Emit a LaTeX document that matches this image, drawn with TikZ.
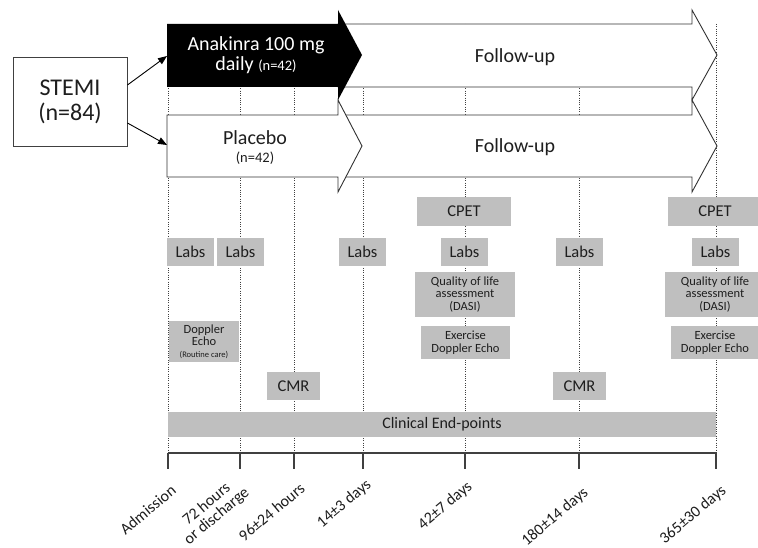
\documentclass[tikz,border=0pt]{standalone}
\usepackage{fontspec}
\setmainfont{Carlito}
\usetikzlibrary{arrows.meta}
\definecolor{boxgray}{HTML}{BFBFBF}
\definecolor{txt}{HTML}{1E1E1E}
\tikzset{
  gbox/.style={fill=boxgray, draw=none, text=txt, inner sep=0pt, align=center, font=\fontsize{16.5}{18}\selectfont},
  sbox/.style={gbox, font=\fontsize{12.5}{12.5}\selectfont},
  vline/.style={black!75, line width=0.7pt, dash pattern=on 0.7pt off 1.6pt},
  arrowshape/.style={draw=black!80, line width=0.9pt, fill=white, line join=miter},
  axlab/.style={rotate=40, anchor=north east, inner sep=1pt, font=\fontsize{16}{15.5}\selectfont, text=txt, align=center},
  bigtxt/.style={font=\fontsize{20}{20}\selectfont, align=center, text=txt},
  axisline/.style={black!75, line width=1.1pt},
}
\begin{document}
\begin{tikzpicture}[x=1pt,y=-1pt]
\useasboundingbox (0,0) rectangle (758,548);
\clip (0,0) rectangle (758,548);
\fill[white] (0,0) rectangle (758,548);

% time points
\foreach \n/\x in {a/168, b/240, c/294, d/363, e/465, f/579, g/716} {
  \coordinate (top\n) at (\x,24);
  \coordinate (ax\n) at (\x,453);
  \coordinate (tk\n) at (\x,469);
}
\foreach \n in {a,b,c,d,e,f,g} { \draw[vline] (top\n) -- (ax\n); }

% axis
\draw[axisline] (axa) -- (axg);
\foreach \n in {a,b,c,d,e,f,g} { \draw[axisline] (ax\n) -- (tk\n); }

% follow-up arrows
\draw[arrowshape] (338,24) -- (692,24) -- (692,10) -- (717,55) -- (692,100) -- (692,87) -- (338,87) -- cycle;
\draw[arrowshape] (338,115) -- (692,115) -- (692,100) -- (717,146) -- (692,192) -- (692,177) -- (338,177) -- cycle;
% treatment arrows
\draw[arrowshape] (167,115) -- (338,115) -- (338,100) -- (362,146) -- (338,192) -- (338,177) -- (167,177) -- cycle;
\fill[black] (167,24) -- (338,24) -- (338,10) -- (362,55) -- (338,100) -- (338,87) -- (167,87) -- cycle;

\node[bigtxt, text=white] (anatext) at (256,55) {Anakinra 100 mg\\daily {\fontsize{14.5}{14.5}\selectfont(n=42)}};
\node[bigtxt] (platext) at (255,148) {Placebo\\[-2pt]{\fontsize{14.5}{14.5}\selectfont(n=42)}};
\node[bigtxt] (fu1) at (515,57) {Follow-up};
\node[bigtxt] (fu2) at (515,147) {Follow-up};
\coordinate (anaL) at (167,56);
\coordinate (plaL) at (167,145);

% STEMI
\node[draw=black!75, line width=0.9pt, minimum width=114pt, minimum height=89pt, inner sep=0pt, align=center, text=txt, font=\fontsize{24}{25}\selectfont] (stemi) at (70,101.5) {STEMI\\(n=84)};
\draw[black, line width=0.9pt, -{Triangle[length=9pt,width=7pt]}] ([yshift=16.5pt]stemi.east) -- (anaL);
\draw[black, line width=0.9pt, -{Triangle[length=9pt,width=7pt]}] ([yshift=-21.5pt]stemi.east) -- (plaL);

% assessment boxes
\node[gbox, minimum width=47pt, minimum height=28pt] (labs1) at (190.5,252) {Labs};
\node[gbox, minimum width=47pt, minimum height=28pt] (labs2) at (240.5,252) {Labs};
\node[gbox, minimum width=47pt, minimum height=28pt] (labs3) at (362.5,252) {Labs};
\node[gbox, minimum width=47pt, minimum height=28pt] (labs4) at (464.5,252) {Labs};
\node[gbox, minimum width=47pt, minimum height=28pt] (labs5) at (579.5,252) {Labs};
\node[gbox, minimum width=47pt, minimum height=28pt] (labs6) at (715.5,252) {Labs};
\node[gbox, minimum width=94pt, minimum height=29pt] (cpet1) at (464,211.5) {CPET};
\node[gbox, minimum width=94pt, minimum height=29pt] (cpet2) at (715,211.5) {CPET};
\node[sbox, minimum width=100pt, minimum height=45pt] (qol1) at (465,294.5) {Quality of life\\assessment\\(DASI)};
\node[sbox, minimum width=100pt, minimum height=45pt] (qol2) at (715,294.5) {Quality of life\\assessment\\(DASI)};
\node[sbox, minimum width=89pt, minimum height=33pt] (exde1) at (465.5,342.5) {Exercise\\Doppler Echo};
\node[sbox, minimum width=88pt, minimum height=33pt] (exde2) at (715,342.5) {Exercise\\Doppler Echo};
\node[sbox, minimum width=70pt, minimum height=41pt] (de) at (204,341.5) {Doppler\\Echo\\[-1pt]{\fontsize{8.5}{9}\selectfont(Routine care)}};
\node[gbox, minimum width=53pt, minimum height=28pt] (cmr1) at (293.5,386) {CMR};
\node[gbox, minimum width=53pt, minimum height=28pt] (cmr2) at (579.5,386) {CMR};
\node[gbox, minimum width=548pt, minimum height=25pt, font=\fontsize{16}{18}\selectfont] (clin) at (442,424.5) {Clinical End-points};

% axis labels
\node[axlab] (la) at (170,482) {Admission};
\node[axlab] (lb) at (233,472) {72 hours\\or discharge};
\node[axlab] (lc) at (299,480) {96±24 hours};
\node[axlab] (ld) at (365,476) {14±3 days};
\node[axlab] (le) at (466,478) {42±7 days};
\node[axlab] (lf) at (582,484) {180±14 days};
\node[axlab] (lg) at (720,482) {365±30 days};
\end{tikzpicture}
\end{document}
